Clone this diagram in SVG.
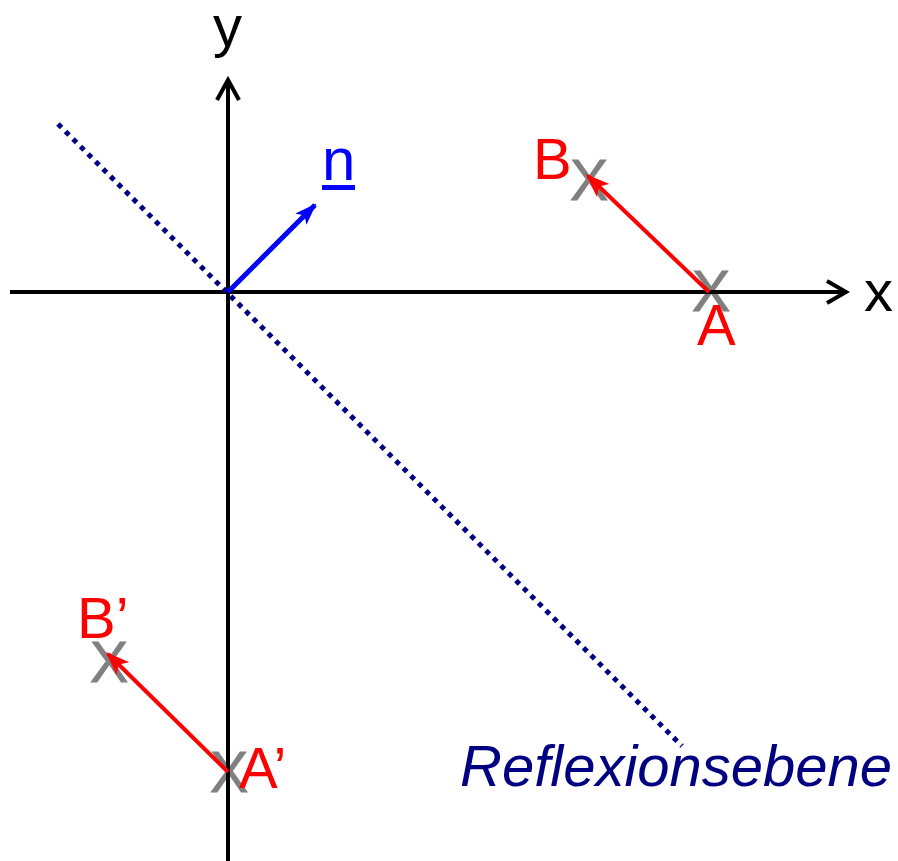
<svg xmlns="http://www.w3.org/2000/svg" width="898" height="861" viewBox="0 0 898 861">
  <style>
    .axis { stroke: #000; stroke-width: 4; fill: none; }
    .mark { fill: #808080; stroke: #808080; stroke-width: 0.8; font-family: "Liberation Sans", Arial, sans-serif; font-size: 58px; text-anchor: middle; }
    .lbl { fill: #ff0000; font-family: "Liberation Sans", Arial, sans-serif; font-size: 58px; }
    .axlbl { fill: #000; font-family: "Liberation Sans", Arial, sans-serif; font-size: 58px; }
    .vec { stroke: #ff0000; stroke-width: 4; fill: none; }
  </style>
  <defs>
    <marker id="redHead" markerUnits="userSpaceOnUse" markerWidth="26" markerHeight="20" refX="21" refY="9" orient="auto" viewBox="0 0 26 20">
      <path d="M0,0 L24,9 L0,18 L6,9 z" fill="#ff0000"/>
    </marker>
    <marker id="blueHead" markerUnits="userSpaceOnUse" markerWidth="24" markerHeight="18" refX="20" refY="8" orient="auto" viewBox="0 0 24 18">
      <path d="M0,0 L22,8 L0,16 L5,8 z" fill="#0000ff"/>
    </marker>
  </defs>
  <rect width="898" height="861" fill="#fff"/>

  <g id="pointA">
    <text class="mark" x="711" y="311">X</text>
    <text class="lbl" x="697" y="345">A</text>
  </g>
  <g id="pointB">
    <text class="mark" x="589" y="200">X</text>
    <text class="lbl" x="533" y="179">B</text>
  </g>
  <g id="pointA2">
    <text class="mark" x="229" y="792">X</text>
    <text class="lbl" x="239" y="788">A’</text>
  </g>
  <g id="pointB2">
    <text class="mark" x="109" y="682">X</text>
    <text class="lbl" x="77" y="638">B’</text>
  </g>

  <g id="axes">
    <line class="axis" x1="10" y1="292" x2="846" y2="292"/>
    <polyline class="axis" points="827,281 846,292 827,303"/>
    <line class="axis" x1="228" y1="861" x2="228" y2="80"/>
    <polyline class="axis" points="217,100 228,80 239,100"/>
    <text class="axlbl" x="864" y="311">x</text>
    <text class="axlbl" x="213" y="46">y</text>
  </g>

  <g id="plane">
    <line x1="58" y1="124" x2="682" y2="746" stroke="#000080" stroke-width="5" stroke-dasharray="5 5.6"/>
    <text x="460" y="786" fill="#000080" font-family="Liberation Sans, Arial, sans-serif" font-size="58" font-style="italic">Reflexionsebene</text>
  </g>

  <g id="normal">
    <text x="322" y="180" fill="#0000ff" font-family="Liberation Sans, Arial, sans-serif" font-size="60">n</text>
    <rect x="322" y="185" width="33" height="5" fill="#0000ff"/>
  </g>

  <g id="connectors">
    <line x1="228" y1="292" x2="315" y2="205" stroke="#0000ff" stroke-width="5" marker-end="url(#blueHead)"/>
    <line class="vec" x1="709" y1="292" x2="588" y2="176" marker-end="url(#redHead)"/>
    <line class="vec" x1="228" y1="772" x2="108" y2="654" marker-end="url(#redHead)"/>
  </g>
</svg>
